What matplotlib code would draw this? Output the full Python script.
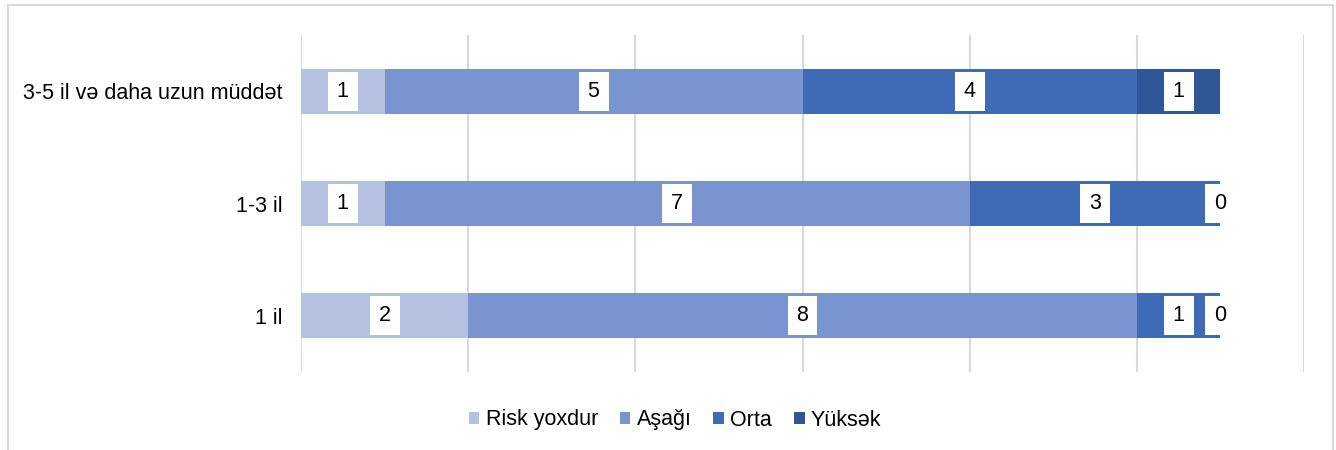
import matplotlib.pyplot as plt
from matplotlib.patches import Rectangle
import numpy as np

plt.rcParams['font.family'] = ['Liberation Sans', 'DejaVu Sans']

# categories (bottom to top) and series values
categories = ['1 il', '1-3 il', '3-5 il və daha uzun müddət']
series_names = ['Risk yoxdur', 'Aşağı', 'Orta', 'Yüksək']
risk_yoxdur = [2, 1, 1]
asagi = [8, 7, 5]
orta = [1, 3, 4]
yuksek = [0, 0, 1]

colors = ['#B4C1E1', '#7A94CF', '#3E6AB6', '#2F5697']

fig = plt.figure(figsize=(13.36, 4.5), dpi=100)
ax = fig.add_axes([301 / 1336, 1 - 372 / 450, (1304 - 301) / 1336, (372 - 35) / 450])

# outer frame
fig.patches.append(Rectangle((8 / 1336, -0.05), (1333 - 8) / 1336, 1.05 - 5 / 450,
                             transform=fig.transFigure, fill=False,
                             edgecolor='#D9D9D9', linewidth=1.5))

y = np.arange(len(categories))
left = np.zeros(len(categories))
for name, vals, col in zip(series_names, [risk_yoxdur, asagi, orta, yuksek], colors):
    vals = np.array(vals)
    ax.barh(y, vals, left=left, height=0.4, color=col, label=name, zorder=2)
    for yi, (l, v) in enumerate(zip(left, vals)):
        ax.text(l + v / 2, yi, str(v), ha='center', va='center', fontsize=15.5,
                color='black', zorder=3,
                bbox=dict(boxstyle='square,pad=0.42', facecolor='white', edgecolor='none'))
    left = left + vals

ax.set_xlim(0, 12)
ax.set_ylim(-0.5, 2.5)
ax.set_xticks(np.arange(0, 13, 2))
ax.set_xticklabels([])
ax.tick_params(axis='x', length=0)
ax.tick_params(axis='y', length=0, pad=13, labelsize=15.5)
ax.set_yticks(y)
ax.set_yticklabels(categories)
ax.grid(axis='x', color='#D9D9D9', linewidth=1.5, zorder=0)
ax.set_axisbelow(True)
for s in ax.spines.values():
    s.set_visible(False)

fig.legend(loc='center', bbox_to_anchor=(675 / 1336, 1 - 420 / 450), ncol=4,
           frameon=False, fontsize=15.5, handlelength=0.5, handleheight=0.5,
           handletextpad=0.3, columnspacing=1.0)

fig.savefig('out.png', dpi=100)
